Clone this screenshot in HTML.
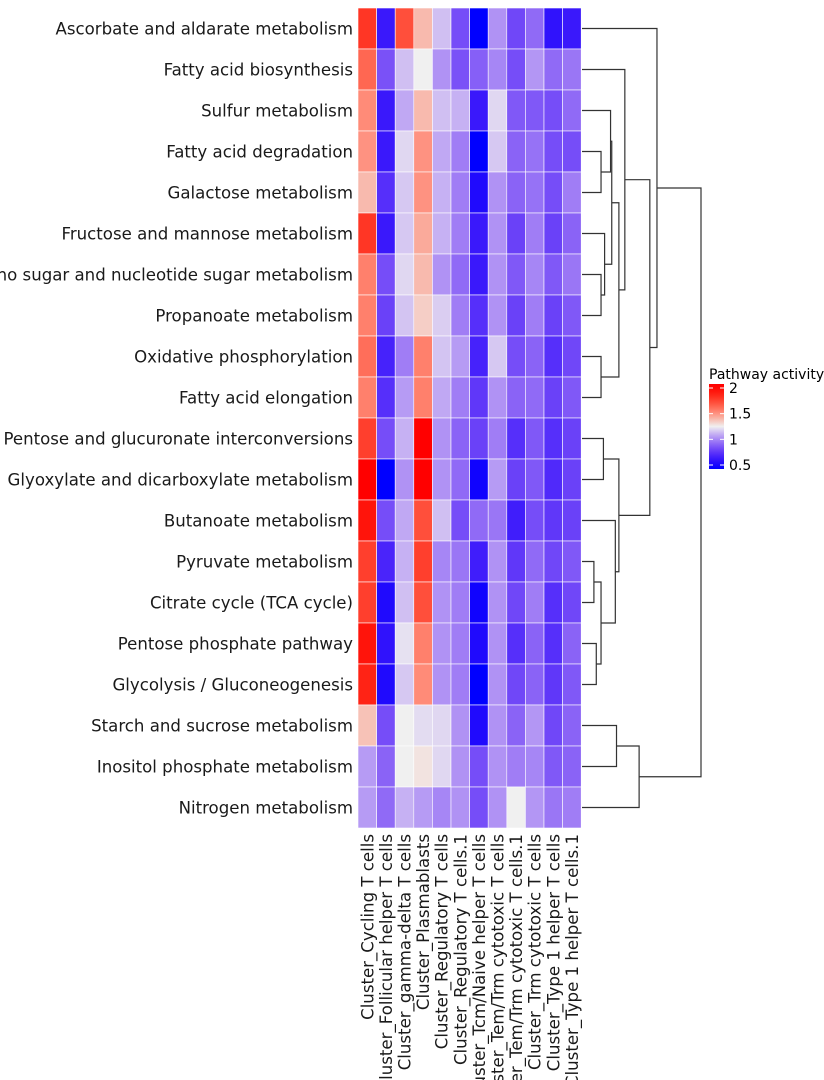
<!DOCTYPE html>
<html><head><meta charset="utf-8">
<style>
html,body{margin:0;padding:0;background:#fff;}
svg{display:block;font-family:"DejaVu Sans","Liberation Sans",sans-serif;}
</style></head>
<body>
<svg id="chart" width="824" height="1080" viewBox="0 0 824 1080" xmlns="http://www.w3.org/2000/svg"></svg>
<script>
const rowLabels = ["Ascorbate and aldarate metabolism","Fatty acid biosynthesis","Sulfur metabolism","Fatty acid degradation","Galactose metabolism","Fructose and mannose metabolism","Amino sugar and nucleotide sugar metabolism","Propanoate metabolism","Oxidative phosphorylation","Fatty acid elongation","Pentose and glucuronate interconversions","Glyoxylate and dicarboxylate metabolism","Butanoate metabolism","Pyruvate metabolism","Citrate cycle (TCA cycle)","Pentose phosphate pathway","Glycolysis / Gluconeogenesis","Starch and sucrose metabolism","Inositol phosphate metabolism","Nitrogen metabolism"];
const colLabels = ["Cluster_Cycling T cells","Cluster_Follicular helper T cells","Cluster_gamma-delta T cells","Cluster_Plasmablasts","Cluster_Regulatory T cells","Cluster_Regulatory T cells.1","Cluster_Tcm/Naive helper T cells","Cluster_Tem/Trm cytotoxic T cells","Cluster_Tem/Trm cytotoxic T cells.1","Cluster_Trm cytotoxic T cells","Cluster_Type 1 helper T cells","Cluster_Type 1 helper T cells.1"];
const values = [
[1.75,0.68,1.67,1.38,1.15,0.87,0.5,1.05,0.85,0.95,0.65,0.68],
[1.6,0.88,1.15,1.25,1.05,0.88,0.92,1.02,0.87,1.06,0.95,0.98],
[1.5,0.68,1.1,1.38,1.15,1.12,0.68,1.2,0.9,0.9,0.87,0.95],
[1.48,0.68,1.2,1.48,1.1,1.0,0.5,1.17,0.93,0.97,0.87,0.87],
[1.38,0.77,1.17,1.48,1.12,1.0,0.6,1.05,0.93,0.97,0.87,1.0],
[1.75,0.68,1.17,1.42,1.12,1.0,0.68,1.05,0.83,1.0,0.83,0.93],
[1.53,0.87,1.2,1.38,1.05,0.95,0.68,1.05,0.9,1.02,0.9,0.98],
[1.53,0.83,1.16,1.33,1.18,1.0,0.77,1.05,0.83,1.0,0.83,0.9],
[1.58,0.72,1.0,1.53,1.16,1.07,0.72,1.17,0.87,0.93,0.77,0.85],
[1.53,0.77,1.07,1.53,1.1,1.0,0.8,1.05,0.93,0.95,0.83,0.9],
[1.72,0.87,1.12,2.0,1.05,0.93,0.83,1.0,0.77,0.9,0.77,0.83],
[2.0,0.5,1.05,2.0,1.05,0.95,0.55,1.07,0.83,0.9,0.75,0.83],
[1.88,0.87,1.1,1.67,1.15,0.87,0.95,0.98,0.7,0.87,0.8,0.83],
[1.72,0.73,1.12,1.72,1.02,0.98,0.7,1.05,0.8,0.95,0.85,0.9],
[1.72,0.6,1.15,1.67,1.05,1.0,0.55,1.05,0.85,1.0,0.77,0.85],
[1.88,0.65,1.22,1.53,1.05,1.0,0.6,1.05,0.77,0.93,0.77,0.93],
[1.82,0.6,1.17,1.5,1.05,1.0,0.5,1.05,0.85,0.93,0.8,0.9],
[1.36,0.87,1.25,1.21,1.2,1.05,0.6,1.05,0.93,1.06,0.85,0.93],
[1.07,0.93,1.25,1.28,1.2,1.05,0.87,1.05,1.0,1.02,0.9,0.93],
[1.07,0.95,1.12,1.07,1.02,1.05,0.87,1.05,1.25,1.06,0.98,1.0]
];
// dendrogram merges: [id, childA, childB, height]; leaves are row indices "rN"
const merges = [
["J","r3","r4",0.16],["I","r2","J",0.24],["L","r6","r7",0.16],["K","r5","L",0.19],
["G","I","K",0.25],["H","r8","r9",0.16],["F","G","H",0.31],["D","r1","F",0.36],
["M","r10","r11",0.18],["P","r13","r14",0.10],["Q","r15","r16",0.12],["O","P","Q",0.16],
["N","r12","O",0.28],["E","M","N",0.31],["C","D","E",0.57],["A","r0","C",0.63],
["R","r17","r18",0.29],["B","R","r19",0.48],["root","A","B",1.0]
];
const legendTicks = [0.5,1,1.5,2];

const NS="http://www.w3.org/2000/svg";
const svg=document.getElementById('chart');
function mk(t,a,p){const e=document.createElementNS(NS,t);for(const k in a)e.setAttribute(k,a[k]);(p||svg).appendChild(e);return e;}
const X0=358,CW=18.6,Y0=8,RH=41,LMIN=0.5,LMID=1.25,LMAX=2;
const xCol=j=>X0+j*CW, yRow=i=>Y0+i*RH;
function color(v){
  v=Math.max(LMIN,Math.min(LMAX,v));
  let r,g,b;
  if(v<=LMID){const t=(v-LMIN)/(LMID-LMIN);r=240*t;g=240*Math.pow(t,1.6);b=255-15*t;}
  else{const s=(v-LMID)/(LMAX-LMID);const u=1-s;r=240+15*Math.min(1,s*3);g=240*Math.pow(u,1.35);b=240*Math.pow(u,1.7);}
  return `rgb(${Math.round(r)},${Math.round(g)},${Math.round(b)})`;
}
const gH=mk('g',{});
values.forEach((row,i)=>row.forEach((v,j)=>{
  const c=mk('rect',{x:xCol(j),y:yRow(i),width:CW,height:RH,fill:color(v),stroke:'#ffffff','stroke-width':0.6},gH);
  
  
}));
rowLabels.forEach((t,i)=>{
  const e=mk('text',{x:353,y:yRow(i)+RH/2+6,'text-anchor':'end','font-size':16.6,fill:'#1a1a1a'});
  e.textContent=t;
  
  
});
colLabels.forEach((t,j)=>{
  const cx=xCol(j)+CW/2+6;
  const e=mk('text',{x:0,y:0,'text-anchor':'end','font-size':16.6,fill:'#1a1a1a',transform:`translate(${cx},834) rotate(-90)`});
  e.textContent=t;
  
  
});
// dendrogram
const DX0=582,DW=119;
const hx=h=>DX0+h*DW;
const pos={};
for(let i=0;i<rowLabels.length;i++)pos['r'+i]={y:yRow(i)+RH/2,x:DX0};
const gD=mk('g',{stroke:'#333',fill:'none','stroke-width':1.2});


merges.forEach(([id,a,b,h])=>{
  const x=hx(h),pa=pos[a],pb=pos[b];
  const p=mk('path',{d:`M${pa.x},${pa.y}H${x}V${pb.y}H${pb.x}`},gD);
  
  
  pos[id]={x:x,y:(pa.y+pb.y)/2};
});
// legend
const gL=mk('g',{});


const lt=mk('text',{x:709,y:379,'font-size':14,fill:'#000'},gL);lt.textContent='Pathway activity';


const ly=v=>465-(v-LMIN)*(77/1.5);
const defs=mk('defs',{});
const grad=mk('linearGradient',{id:'lg',x1:0,y1:1,x2:0,y2:0},defs);
for(let k=0;k<=20;k++){const v=LMIN+(LMAX-LMIN)*k/20;mk('stop',{offset:k/20,'stop-color':color(v)},grad);}
const bar=mk('rect',{x:709,y:ly(LMAX)-4,width:15,height:(ly(LMIN)-ly(LMAX))+8,fill:'url(#lg)'},gL);


legendTicks.forEach(v=>{
  mk('line',{x1:709,x2:713,y1:ly(v),y2:ly(v),stroke:'#fff','stroke-width':1},gL);
  mk('line',{x1:720,x2:724,y1:ly(v),y2:ly(v),stroke:'#fff','stroke-width':1},gL);
  const t=mk('text',{x:729,y:ly(v)+5,'font-size':14,fill:'#000'},gL);t.textContent=String(v);
  
  
});
</script>
</body></html>
